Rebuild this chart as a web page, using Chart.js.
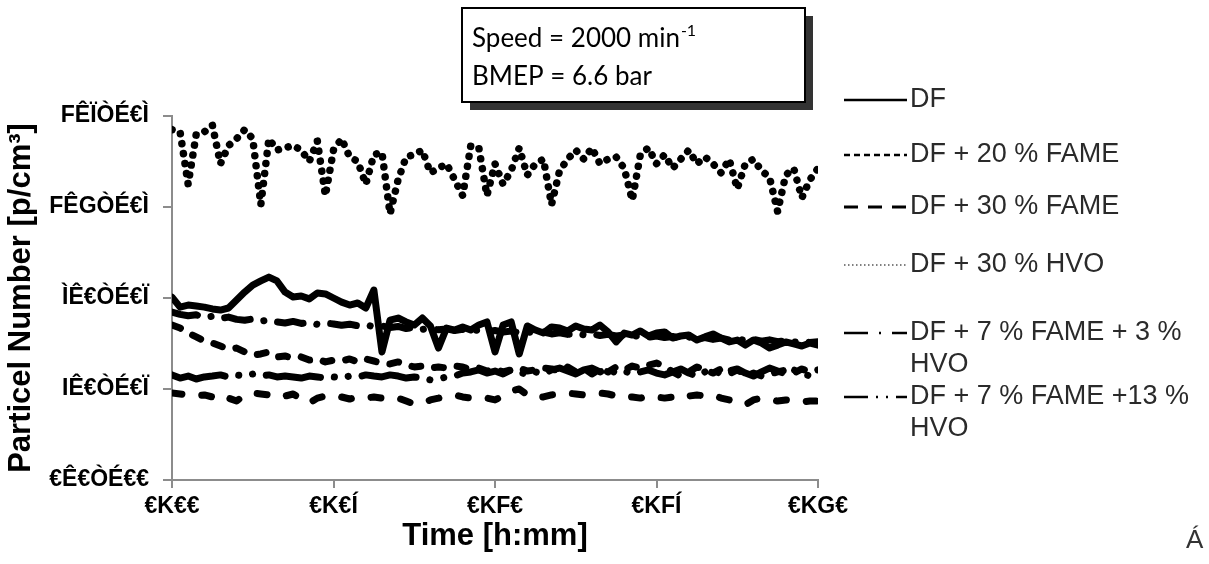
<!DOCTYPE html>
<html>
<head>
<meta charset="utf-8">
<script src="https://cdn.jsdelivr.net/npm/chart.js@4.4.1/dist/chart.umd.min.js"></script>
<style>
  html, body { margin: 0; padding: 0; background: #fff; overflow: hidden; }
  #wrap { width: 1209px; height: 564px; position: relative; }
</style>
</head>
<body>
<div id="wrap"><canvas id="c" width="1209" height="564"></canvas></div>
<script>
// Sample times in minutes
const timeMin = [
  0, 0.25, 0.5, 0.75, 1, 1.25, 1.5, 1.75, 2, 2.25,
  2.5, 2.75, 3, 3.25, 3.5, 3.75, 4, 4.25, 4.5, 4.75,
  5, 5.25, 5.5, 5.75, 6, 6.25, 6.5, 6.75, 7, 7.25,
  7.5, 7.75, 8, 8.25, 8.5, 8.75, 9, 9.25, 9.5, 9.75,
  10, 10.25, 10.5, 10.75, 11, 11.25, 11.5, 11.75, 12, 12.25,
  12.5, 12.75, 13, 13.25, 13.5, 13.75, 14, 14.25, 14.5, 14.75,
  15, 15.25, 15.5, 15.75, 16, 16.25, 16.5, 16.75, 17, 17.25,
  17.5, 17.75, 18, 18.25, 18.5, 18.75, 19, 19.25, 19.5, 19.75,
  20
];

// Particle number, millions of particles per cm³
const pnDF = [
  8.04, 7.60, 7.69, 7.65, 7.60, 7.52, 7.47, 7.56, 7.91, 8.26,
  8.57, 8.75, 8.92, 8.75, 8.26, 8.04, 8.09, 7.96, 8.22, 8.18,
  8.00, 7.82, 7.69, 7.78, 7.56, 8.35, 5.63, 7.03, 7.12, 6.95,
  6.81, 7.12, 6.77, 5.80, 6.68, 6.59, 6.73, 6.59, 6.81, 6.95,
  5.63, 6.81, 6.95, 5.54, 6.77, 6.59, 6.46, 6.73, 6.68, 6.55,
  6.77, 6.64, 6.59, 6.81, 6.51, 6.07, 6.46, 6.37, 6.55, 6.33,
  6.46, 6.51, 6.24, 6.33, 6.37, 6.15, 6.29, 6.42, 6.24, 6.07,
  6.15, 5.93, 6.15, 6.02, 5.80, 5.93, 6.07, 5.98, 5.89, 6.02,
  5.93
];
const pnFAME20 = [
  6.81, 6.68, 6.46, 6.29, 6.11, 6.02, 5.89, 5.76, 5.80, 5.63,
  5.49, 5.54, 5.63, 5.41, 5.45, 5.36, 5.41, 5.27, 5.32, 5.19,
  5.27, 5.23, 5.32, 5.19, 5.32, 5.23, 5.14, 5.10, 5.19, 5.05,
  4.97, 5.01, 4.92, 4.97, 4.92, 5.01, 4.97, 4.84, 4.92, 4.79,
  4.88, 4.75, 4.84, 4.92, 4.79, 4.84, 4.92, 4.88, 4.79, 4.97,
  4.75, 4.92, 4.66, 4.88, 4.75, 4.97, 4.84, 5.01, 4.92, 5.05,
  5.14, 5.01, 4.75, 4.57, 4.75, 4.97, 4.84, 4.70, 4.88, 4.66,
  4.84, 4.62, 4.70, 4.57, 4.66, 4.75, 4.84, 4.70, 4.88, 4.75,
  4.84
];
const pnFAME30 = [
  3.82, 3.78, 3.74, 3.69, 3.74, 3.65, 3.78, 3.60, 3.47, 3.74,
  3.82, 3.78, 3.74, 3.82, 3.69, 3.78, 3.56, 3.38, 3.60, 3.69,
  3.60, 3.65, 3.56, 3.65, 3.60, 3.65, 3.60, 3.56, 3.60, 3.47,
  3.34, 3.38, 3.52, 3.60, 3.69, 3.74, 3.65, 3.60, 3.56, 3.60,
  3.52, 3.69, 3.91, 4.00, 3.74, 3.60, 3.65, 3.74, 3.78, 3.82,
  3.78, 3.74, 3.78, 3.82, 3.78, 3.69, 3.60, 3.65, 3.60, 3.69,
  3.65, 3.60, 3.65, 3.56, 3.69, 3.74, 3.69, 3.74, 3.60, 3.52,
  3.43, 3.30, 3.52, 3.60, 3.56, 3.47, 3.52, 3.47, 3.43, 3.47,
  3.47
];
const pnHVO30 = [
  15.4, 15.3, 13.0, 15.2, 15.3, 15.6, 13.9, 14.7, 15.0, 15.4,
  15.0, 12.1, 15.0, 14.5, 14.6, 14.7, 14.5, 14.0, 14.9, 12.5,
  14.5, 15.0, 14.2, 14.0, 13.0, 14.3, 14.4, 11.7, 13.2, 14.2,
  14.3, 14.5, 13.5, 13.7, 13.9, 13.2, 12.5, 14.7, 14.6, 12.5,
  13.9, 13.0, 13.6, 14.6, 13.4, 13.9, 14.1, 12.1, 13.6, 14.1,
  14.5, 14.1, 14.6, 13.9, 14.1, 14.2, 13.7, 12.3, 14.3, 14.6,
  13.9, 14.3, 13.7, 14.1, 14.5, 13.9, 14.2, 13.9, 13.5, 14.1,
  12.8, 13.9, 14.1, 13.6, 13.3, 11.8, 13.4, 13.7, 12.4, 13.2,
  13.7
];
const pnF7H3 = [
  7.38, 7.28, 7.22, 7.26, 7.14, 7.20, 7.10, 7.16, 7.06, 7.02,
  7.08, 6.98, 7.04, 6.95, 6.90, 6.97, 6.88, 6.93, 6.84, 6.90,
  6.86, 6.80, 6.85, 6.78, 6.82, 6.74, 6.77, 6.70, 6.75, 6.66,
  6.71, 6.62, 6.68, 6.60, 6.64, 6.57, 6.62, 6.54, 6.60, 6.52,
  6.57, 6.50, 6.55, 6.47, 6.52, 6.44, 6.50, 6.42, 6.47, 6.40,
  6.45, 6.38, 6.43, 6.35, 6.40, 6.33, 6.38, 6.30, 6.36, 6.28,
  6.33, 6.26, 6.31, 6.23, 6.29, 6.20, 6.26, 6.18, 6.24, 6.15,
  6.22, 6.12, 6.19, 6.10, 6.16, 6.08, 6.13, 6.06, 6.11, 6.04,
  6.08
];
const pnF7H13 = [
  4.62, 4.48, 4.57, 4.44, 4.53, 4.57, 4.62, 4.53, 4.62, 4.57,
  4.66, 4.57, 4.62, 4.53, 4.57, 4.53, 4.48, 4.57, 4.53, 4.48,
  4.53, 4.48, 4.57, 4.53, 4.62, 4.57, 4.53, 4.62, 4.57, 4.48,
  4.53, 4.48, 4.40, 4.44, 4.53, 4.57, 4.70, 4.75, 4.84, 4.70,
  4.79, 4.66, 4.84, 4.75, 4.62, 4.75, 4.66, 4.84, 4.92, 4.79,
  4.66, 4.84, 4.92, 4.75, 4.88, 4.70, 4.79, 4.66, 4.75, 4.84,
  4.70, 4.62, 4.75, 4.88, 4.70, 4.57, 4.75, 4.84, 4.66, 4.79,
  4.88, 4.70, 4.57, 4.75, 4.92, 4.79, 4.66, 4.84, 4.70, 4.57,
  4.75
];

// Axis tick labels, as printed
const xTickLabels = ['€K€€', '€K€Í', '€KF€', '€KFÍ', '€KG€'];
const yTickLabels = ['€Ê€ÒÉ€€', 'IÊ€ÒÉ€Ï', 'ÌÊ€ÒÉ€Ï', 'FÊGÒÉ€Ì', 'FÊÏÒÉ€Ì'];

const seriesNames = [
  'DF',
  'DF + 20 % FAME',
  'DF + 30 % FAME',
  'DF + 30 % HVO',
  'DF + 7 % FAME + 3 % HVO',
  'DF + 7 % FAME +13 % HVO'
];
// legend text lines (wrapped as printed)
const legendLines = [
  ['DF'],
  ['DF + 20 % FAME'],
  ['DF + 30 % FAME'],
  ['DF + 30 % HVO'],
  ['DF + 7 % FAME + 3 %', 'HVO'],
  ['DF + 7 % FAME +13 %', 'HVO']
];

const infoLine1 = 'Speed = 2000 min';
const infoSup = '-1';
const infoLine2 = 'BMEP = 6.6 bar';

const styles = [
  { dash: [], width: 7, legendDash: [], legendWidth: 2.5, legendColor: '#000' },
  { dash: [9, 14], width: 7, legendDash: [6, 4], legendWidth: 2.5, legendColor: '#000' },
  { dash: [10, 20], width: 7, legendDash: [14, 10], legendWidth: 3, legendColor: '#000' },
  { dash: [0.1, 10], width: 7.5, legendDash: [1.5, 2.5], legendWidth: 1.6, legendColor: '#555' },
  { dash: [26, 14, 0.1, 14], width: 7, legendDash: [24, 11, 2, 11], legendWidth: 2.5, legendColor: '#000' },
  { dash: [55, 14, 0.1, 14, 0.1, 14], width: 7, legendDash: [24, 8, 2, 8, 2, 8], legendWidth: 2.5, legendColor: '#000' }
];

const allSeries = [pnDF, pnFAME20, pnFAME30, pnHVO30, pnF7H3, pnF7H13];

const datasets = allSeries.map((vals, k) => ({
  label: seriesNames[k],
  data: vals.map((v, i) => ({ x: timeMin[i], y: v })),
  borderColor: '#000',
  backgroundColor: '#000',
  borderWidth: styles[k].width,
  borderDash: styles[k].dash,
  borderCapStyle: 'round',
  borderJoinStyle: 'round',
  pointRadius: 0,
  tension: 0,
  fill: false,
  order: k === 0 ? 0 : 1
}));

// Legend and info box drawn on the canvas
const annotations = {
  id: 'annotations',
  afterDraw(chart) {
    const ctx = chart.ctx;
    ctx.save();
    // legend
    const rowY = [100, 155, 207, 265, 333, 397];
    ctx.font = '27px "Liberation Sans", Arial, sans-serif';
    ctx.textBaseline = 'middle';
    legendLines.forEach((lines, k) => {
      const y = rowY[k];
      ctx.beginPath();
      ctx.setLineDash(styles[k].legendDash);
      ctx.lineWidth = styles[k].legendWidth;
      ctx.strokeStyle = styles[k].legendColor;
      ctx.lineCap = 'butt';
      ctx.moveTo(844, y);
      ctx.lineTo(907, y);
      ctx.stroke();
      ctx.setLineDash([]);
      ctx.fillStyle = '#2a2a2a';
      lines.forEach((t, j) => {
        ctx.fillText(t, 910, y + j * 32);
      });
    });

    // info box with shadow
    ctx.fillStyle = '#333';
    ctx.fillRect(470, 16, 343, 94);
    ctx.fillStyle = '#fff';
    ctx.fillRect(462, 8, 343, 94);
    ctx.lineWidth = 2;
    ctx.strokeStyle = '#000';
    ctx.strokeRect(462, 8, 343, 94);
    ctx.fillStyle = '#000';
    ctx.textBaseline = 'alphabetic';
    ctx.font = '26px Lato, "Open Sans", sans-serif';
    ctx.fillText(infoLine1, 472, 47);
    const w = ctx.measureText(infoLine1).width;
    ctx.font = '16px Lato, "Open Sans", sans-serif';
    ctx.fillText(infoSup, 472 + w + 1, 36);
    ctx.font = '26px Lato, "Open Sans", sans-serif';
    ctx.fillText(infoLine2, 472, 85);

    ctx.font = '26px "Liberation Sans", Arial, sans-serif';
    ctx.fillStyle = '#333';
    ctx.textBaseline = 'middle';
    ctx.fillText('Á', 1186, 541);
    ctx.restore();
  }
};

const axisColor = '#8c8c8c';

new Chart(document.getElementById('c'), {
  type: 'line',
  data: { datasets },
  options: {
    responsive: false,
    animation: false,
    layout: { padding: { top: 116, right: 391, left: 0, bottom: 0 } },
    plugins: { legend: { display: false }, tooltip: { enabled: false } },
    scales: {
      x: {
        type: 'linear',
        min: 0, max: 20,
        ticks: {
          stepSize: 5,
          color: '#000',
          padding: 5,
          maxRotation: 0,
          font: { family: '"Liberation Sans", Arial, sans-serif', size: 23, weight: 'bold' },
          callback: (v) => xTickLabels[Math.round(v / 5)]
        },
        grid: { drawOnChartArea: false, tickLength: 8, color: axisColor, lineWidth: 2 },
        border: { color: axisColor, width: 2 },
        title: {
          display: true,
          text: 'Time [h:mm]',
          color: '#000',
          font: { family: '"Liberation Sans", Arial, sans-serif', size: 31, weight: 'bold' },
          padding: { top: 0, bottom: 9 }
        },
        afterFit(scale) { scale.height = 84; }
      },
      y: {
        type: 'linear',
        min: 0, max: 16,
        ticks: {
          stepSize: 4,
          color: '#000',
          padding: 14,
          font: { family: '"Liberation Sans", Arial, sans-serif', size: 23, weight: 'bold' },
          callback: (v) => yTickLabels[Math.round(v / 4)]
        },
        grid: { drawOnChartArea: false, tickLength: 9, color: axisColor, lineWidth: 2 },
        border: { color: axisColor, width: 2 },
        title: {
          display: true,
          text: 'Particel Number [p/cm³]',
          color: '#000',
          font: { family: '"Liberation Sans", Arial, sans-serif', size: 31, weight: 'bold' },
          padding: { top: 3, bottom: 0 }
        },
        afterFit(scale) { scale.width = 172; }
      }
    }
  },
  plugins: [annotations]
});
</script>
</body>
</html>
